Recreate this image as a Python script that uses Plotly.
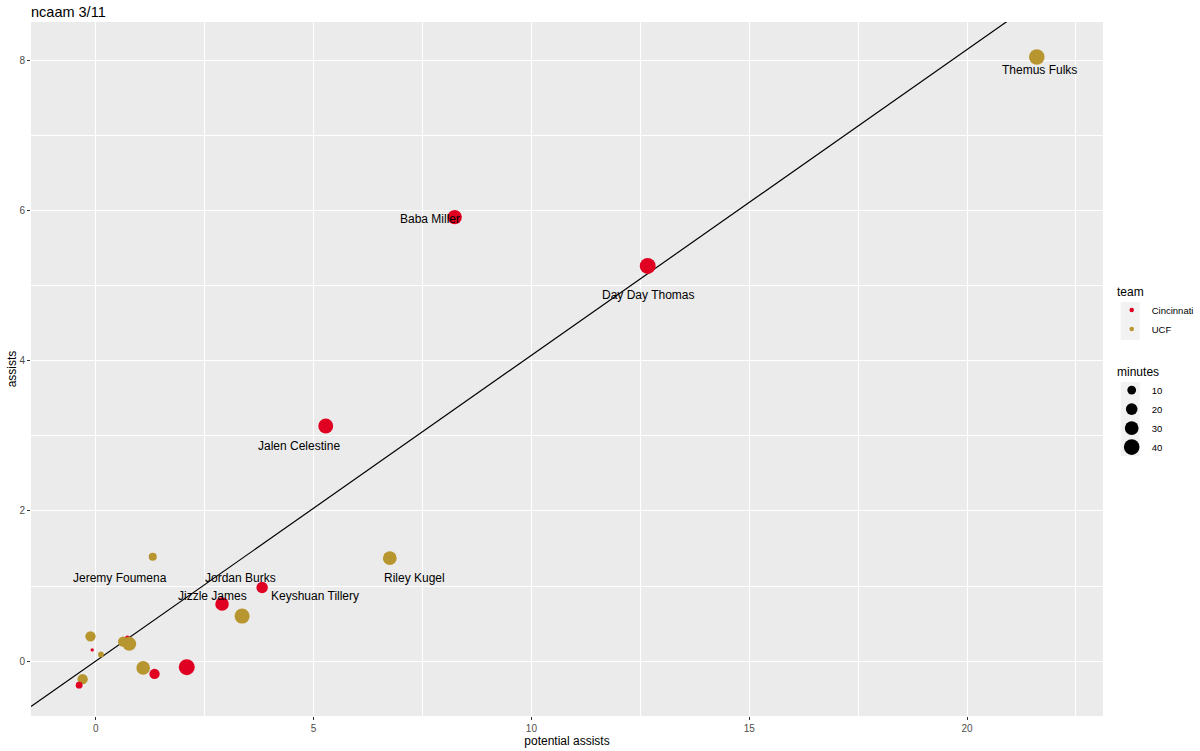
import plotly.graph_objects as go

# ── data (points carry ggplot's jitter) ──────────────────────────────────────

players = [
    "Themus Fulks", "Baba Miller", "Day Day Thomas", "Jalen Celestine",
    "Riley Kugel", "Jordan Burks", "Jizzle James", "Keyshuan Tillery",
    "Jeremy Foumena", "", "", "", "", "", "", "", "", "", "", "",
]
teams = [
    "UCF", "Cincinnati", "Cincinnati", "Cincinnati",
    "UCF", "Cincinnati", "Cincinnati", "UCF",
    "UCF", "UCF", "Cincinnati", "UCF", "UCF", "Cincinnati", "UCF", "UCF",
    "Cincinnati", "Cincinnati", "UCF", "Cincinnati",
]
potential_assists = [
    21.60, 8.24, 12.67, 5.28, 6.75, 3.82, 2.90, 3.36, 1.31, -0.12,
    -0.08, 0.12, 0.63, 0.73, 0.77, 1.09, 1.35, 2.09, -0.30, -0.38,
]
assists = [
    8.04, 5.91, 5.26, 3.13, 1.37, 0.98, 0.76, 0.60, 1.39, 0.33,
    0.15, 0.09, 0.26, 0.31, 0.23, -0.09, -0.17, -0.08, -0.24, -0.32,
]
minutes = [
    40, 33, 42, 36, 30, 19, 29, 37, 8, 15,
    0.4, 3, 15, 1.4, 31, 29, 15, 42, 15, 5,
]

team_names = ["Cincinnati", "UCF"]
team_colors = {"Cincinnati": "#E00122", "UCF": "#B8962F"}
size_breaks = [10, 20, 30, 40]

ref_slope = 0.407          # reference line through the origin
x_range = [-1.485, 23.12]
y_range = [-0.73, 8.506]

# label nudges in px (ggrepel placement as seen in the picture)
label_shift = {
    "Themus Fulks": (3, -13),
    "Baba Miller": (-25, -2),
    "Day Day Thomas": (0, -29),
    "Jalen Celestine": (-27, -20),
    "Riley Kugel": (25, -20),
    "Jordan Burks": (-22, 10),
    "Jizzle James": (-10, 8),
    "Keyshuan Tillery": (73, 20),
    "Jeremy Foumena": (-33, -21),
}

FONT = "Liberation Sans, Arial, Helvetica, sans-serif"

# plot area in px (ggplot panel)
PL, PR, PT, PB = 31, 1103.3, 22, 716
PW, PH = PR - PL, PB - PT


# ── ggplot-like area size scale ──────────────────────────────────────────────

lo, hi = min(minutes) ** 0.5, max(minutes) ** 0.5


def size_px(m: float) -> float:
    frac = (m ** 0.5 - lo) / (hi - lo)
    size_mm = 1 + 5 * frac
    return 0.75 * (size_mm * 2.845 + 0.945) * 1.18


fig = go.Figure()

# reference line
fig.add_trace(
    go.Scatter(
        x=x_range,
        y=[ref_slope * v for v in x_range],
        mode="lines",
        line=dict(color="black", width=1.2),
        showlegend=False,
        hoverinfo="skip",
    )
)

# players
fig.add_trace(
    go.Scatter(
        x=potential_assists,
        y=assists,
        mode="markers",
        marker=dict(
            color=[team_colors[t] for t in teams],
            size=[size_px(m) for m in minutes],
            line=dict(width=0),
            opacity=1,
        ),
        text=players,
        customdata=minutes,
        hovertemplate="%{text}<br>potential assists %{x}<br>assists %{y}<br>minutes %{customdata}<extra></extra>",
        showlegend=False,
    )
)

# legend: team
for t in team_names:
    fig.add_trace(
        go.Scatter(
            x=[None], y=[None], mode="markers", name=t,
            marker=dict(color=team_colors[t], size=4.5, line=dict(width=0)),
            legend="legend",
        )
    )

# legend: minutes
for b in size_breaks:
    fig.add_trace(
        go.Scatter(
            x=[None], y=[None], mode="markers", name=str(b),
            marker=dict(color="black", size=size_px(b), line=dict(width=0)),
            legend="legend2",
        )
    )

# player labels
for name, px_, py_ in zip(players, potential_assists, assists):
    if not name:
        continue
    dx, dy = label_shift[name]
    fig.add_annotation(
        x=px_, y=py_, text=name, showarrow=False,
        xshift=dx, yshift=dy,
        font=dict(family=FONT, size=12, color="black"),
    )

# grey key backgrounds like ggplot's legend keys
for y0, y1 in [(302, 340), (382, 456)]:
    fig.add_shape(
        type="rect", xref="paper", yref="paper",
        x0=(1121 - PL) / PW, x1=(1140 - PL) / PW,
        y0=(PB - y1) / PH, y1=(PB - y0) / PH,
        fillcolor="#F2F2F2", line=dict(width=0), layer="below",
    )

axis_common = dict(
    showgrid=True,
    gridcolor="white",
    gridwidth=1.1,
    zeroline=False,
    showline=False,
    ticks="outside",
    ticklen=3,
    tickwidth=1,
    tickcolor="#333333",
    tickfont=dict(family=FONT, size=10, color="#4D4D4D"),
    automargin=False,
)

fig.update_layout(
    width=1200,
    height=751,
    paper_bgcolor="white",
    plot_bgcolor="#EBEBEB",
    font=dict(family=FONT, color="black"),
    margin=dict(l=PL, r=1200 - PR, t=PT, b=751 - PB, autoexpand=False),
    title=dict(
        text="ncaam 3/11",
        x=0, xref="paper", xanchor="left",
        y=1 - 12 / 751, yref="container", yanchor="middle",
        font=dict(family=FONT, size=14.5, color="black"),
    ),
    xaxis=dict(
        **axis_common,
        range=x_range,
        tickvals=[0, 5, 10, 15, 20],
        minor=dict(dtick=2.5, tick0=0, showgrid=True, gridcolor="white", gridwidth=0.5, ticks=""),
        title=dict(text="potential assists", font=dict(family=FONT, size=12), standoff=0),
    ),
    yaxis=dict(
        **axis_common,
        range=y_range,
        tickvals=[0, 2, 4, 6, 8],
        minor=dict(dtick=1, tick0=0, showgrid=True, gridcolor="white", gridwidth=0.5, ticks=""),
        title=dict(text="assists", font=dict(family=FONT, size=12), standoff=0),
    ),
    legend=dict(
        title=dict(text=" team", font=dict(family=FONT, size=12)),
        font=dict(family=FONT, size=9.5),
        x=(1112 - PL) / PW, xanchor="left",
        y=(PB - 280) / PH, yanchor="top",
        itemsizing="trace",
        bgcolor="rgba(0,0,0,0)",
        tracegroupgap=0,
    ),
    legend2=dict(
        title=dict(text=" minutes", font=dict(family=FONT, size=12)),
        font=dict(family=FONT, size=9.5),
        x=(1112 - PL) / PW, xanchor="left",
        y=(PB - 360) / PH, yanchor="top",
        itemsizing="trace",
        bgcolor="rgba(0,0,0,0)",
        tracegroupgap=0,
    ),
    hovermode="closest",
)

# drop the browser's default body margin so the 1200x751 figure fills the window
fig.write_html(
    "out.html",
    config={"displayModeBar": False},
    post_script="document.body.style.margin = '0';",
)
